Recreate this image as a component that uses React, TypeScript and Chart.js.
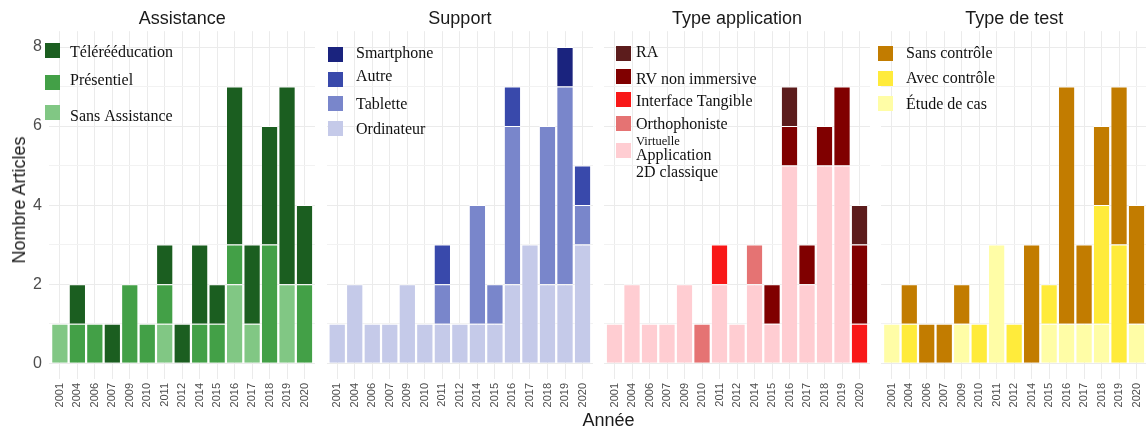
import React, { useEffect, useRef } from 'react';
import { Chart, registerables } from 'chart.js';

Chart.register(...registerables);

// ---------------- DATA ----------------
const years = ['2001', '2004', '2006', '2007', '2009', '2010', '2011', '2012', '2014', '2015', '2016', '2017', '2018', '2019', '2020'];
const yTickLabels = [0, 2, 4, 6, 8];
const yGridValues = [0, 1, 2, 3, 4, 5, 6, 7, 8];

// Assistance (bottom -> top)
const sansAssistance = [1, 0, 0, 0, 0, 0, 1, 0, 0, 0, 2, 1, 0, 2, 0];
const presentiel = [0, 1, 1, 0, 2, 1, 1, 0, 1, 1, 1, 0, 3, 0, 2];
const teleReeducation = [0, 1, 0, 1, 0, 0, 1, 1, 2, 1, 4, 2, 3, 5, 2];

// Support (bottom -> top)
const ordinateur = [1, 2, 1, 1, 2, 1, 1, 1, 1, 1, 2, 3, 2, 2, 3];
const tablette = [0, 0, 0, 0, 0, 0, 1, 0, 3, 1, 4, 0, 4, 5, 1];
const autre = [0, 0, 0, 0, 0, 0, 1, 0, 0, 0, 1, 0, 0, 0, 1];
const smartphone = [0, 0, 0, 0, 0, 0, 0, 0, 0, 0, 0, 0, 0, 1, 0];

// Type application (bottom -> top)
const application2D = [1, 2, 1, 1, 2, 0, 2, 1, 2, 1, 5, 2, 5, 5, 0];
const orthophoniste = [0, 0, 0, 0, 0, 1, 0, 0, 1, 0, 0, 0, 0, 0, 0];
const interfaceTangible = [0, 0, 0, 0, 0, 0, 1, 0, 0, 0, 0, 0, 0, 0, 1];
const rvNonImmersive = [0, 0, 0, 0, 0, 0, 0, 0, 0, 1, 1, 1, 1, 2, 2];
const realiteAugmentee = [0, 0, 0, 0, 0, 0, 0, 0, 0, 0, 1, 0, 0, 0, 1];

// Type de test (bottom -> top)
const etudeDeCas = [1, 0, 0, 0, 1, 0, 3, 0, 0, 1, 1, 1, 1, 0, 1];
const avecControle = [0, 1, 0, 0, 0, 1, 0, 1, 0, 1, 0, 0, 3, 3, 0];
const sansControle = [0, 1, 1, 1, 1, 0, 0, 0, 3, 0, 6, 2, 2, 4, 3];

const panelTitles = ['Assistance', 'Support', 'Type application', 'Type de test'];
const yAxisTitle = 'Nombre Articles';
const xAxisTitle = 'Année';

type Series = { label: string; data: number[]; color: string; legendLines: string[] };

const assistanceSeries: Series[] = [
  { label: 'Sans Assistance', data: sansAssistance, color: '#81C784', legendLines: ['Sans Assistance'] },
  { label: 'Présentiel', data: presentiel, color: '#43A047', legendLines: ['Présentiel'] },
  { label: 'Télérééducation', data: teleReeducation, color: '#1B5E20', legendLines: ['Télérééducation'] },
];
const supportSeries: Series[] = [
  { label: 'Ordinateur', data: ordinateur, color: '#C5CAE9', legendLines: ['Ordinateur'] },
  { label: 'Tablette', data: tablette, color: '#7986CB', legendLines: ['Tablette'] },
  { label: 'Autre', data: autre, color: '#3949AB', legendLines: ['Autre'] },
  { label: 'Smartphone', data: smartphone, color: '#1A237E', legendLines: ['Smartphone'] },
];
const applicationSeries: Series[] = [
  { label: 'Application 2D classique', data: application2D, color: '#FFCDD2', legendLines: ['Virtuelle', 'Application', '2D classique'] },
  { label: 'Orthophoniste', data: orthophoniste, color: '#E57373', legendLines: ['Orthophoniste'] },
  { label: 'Interface Tangible', data: interfaceTangible, color: '#F81818', legendLines: ['Interface Tangible'] },
  { label: 'RV non immersive', data: rvNonImmersive, color: '#800000', legendLines: ['RV non immersive'] },
  { label: 'RA', data: realiteAugmentee, color: '#5C1C1C', legendLines: ['RA'] },
];
const testSeries: Series[] = [
  { label: 'Étude de cas', data: etudeDeCas, color: '#FFFDA6', legendLines: ['Étude de cas'] },
  { label: 'Avec contrôle', data: avecControle, color: '#FFEB3B', legendLines: ['Avec contrôle'] },
  { label: 'Sans contrôle', data: sansControle, color: '#C27C00', legendLines: ['Sans contrôle'] },
];

// ---------------- LAYOUT ----------------
const SANS = '"Liberation Sans", Arial, Helvetica, sans-serif';
const SERIF = '"Liberation Serif", "Times New Roman", serif';
const H = 429;
const PLOT_W = 269.8;
const TEXT_DARK = '#1A1A1A';
const TICK_GRAY = '#4D4D4D';

type Row = { keyTop: number; lines: [number, number][] }; // [fontSize, baseline]
type Panel = {
  title: string;
  series: Series[];
  left: number;
  width: number;
  plotLeft: number;
  yAxis: boolean;
  legend: { keyX: number; textX: number; rows: Row[] };
};

const panels: Panel[] = [
  {
    title: panelTitles[0], series: assistanceSeries, left: 0, width: 322, plotLeft: 49.4, yAxis: true,
    legend: { keyX: 45, textX: 70, rows: [
      { keyTop: 43, lines: [[16, 57]] },
      { keyTop: 75, lines: [[16, 85]] },
      { keyTop: 105, lines: [[16, 121]] },
    ] },
  },
  {
    title: panelTitles[1], series: supportSeries, left: 323, width: 277, plotLeft: 326.7, yAxis: false,
    legend: { keyX: 328, textX: 356, rows: [
      { keyTop: 47, lines: [[16, 58]] },
      { keyTop: 72, lines: [[16, 81]] },
      { keyTop: 96, lines: [[16, 109]] },
      { keyTop: 121, lines: [[16, 134]] },
    ] },
  },
  {
    title: panelTitles[2], series: applicationSeries, left: 600, width: 277, plotLeft: 604.0, yAxis: false,
    legend: { keyX: 616, textX: 636, rows: [
      { keyTop: 46, lines: [[16, 57]] },
      { keyTop: 69, lines: [[16, 84]] },
      { keyTop: 92, lines: [[16, 106]] },
      { keyTop: 116, lines: [[16, 129]] },
      { keyTop: 143, lines: [[12.5, 145], [16, 160], [16, 177]] },
    ] },
  },
  {
    title: panelTitles[3], series: testSeries, left: 877, width: 277, plotLeft: 881.3, yAxis: false,
    legend: { keyX: 878, textX: 906, rows: [
      { keyTop: 46, lines: [[16, 58]] },
      { keyTop: 71, lines: [[16, 83]] },
      { keyTop: 96, lines: [[16, 109]] },
    ] },
  },
];

const panelLegendPlugin = {
  id: 'panelLegend',
  afterDatasetsDraw(chart: any, _args: any, opts: any) {
    const { ctx } = chart;
    const p: Panel = opts.panel;
    const items = [...p.series].reverse();
    ctx.save();
    items.forEach((s, i) => {
      const row = p.legend.rows[i];
      if (!row) return;
      ctx.fillStyle = s.color;
      ctx.fillRect(p.legend.keyX - p.left, row.keyTop, 15, 15);
      ctx.fillStyle = '#111111';
      ctx.textAlign = 'left';
      ctx.textBaseline = 'alphabetic';
      s.legendLines.forEach((txt, j) => {
        const [size, baseline] = row.lines[j];
        ctx.font = `${size}px ${SERIF}`;
        ctx.fillText(txt, p.legend.textX - p.left, baseline);
      });
    });
    ctx.restore();
  },
};

function makeConfig(p: Panel): any {
  const inner = p.plotLeft - p.left;
  const yWidth = p.yAxis ? inner : 0;
  const padLeft = p.yAxis ? 0 : inner;
  const padRight = p.width - inner - PLOT_W;
  return {
    type: 'bar',
    data: {
      datasets: p.series.map((s) => ({
        label: s.label,
        data: s.data.map((v, i) => ({ x: i, y: v === 0 ? null : v })),
        backgroundColor: s.color,
        borderColor: '#ffffff',
        borderWidth: { top: 1, left: 0.5, right: 0.5, bottom: 0 },
        borderSkipped: 'start',
        categoryPercentage: 1,
        barPercentage: 0.93,
      })),
    },
    plugins: [panelLegendPlugin],
    options: {
      animation: false,
      responsive: false,
      maintainAspectRatio: false,
      events: [],
      layout: { autoPadding: false, padding: { left: padLeft, right: padRight, top: 0, bottom: 0 } },
      plugins: {
        legend: { display: false },
        tooltip: { enabled: false },
        title: {
          display: true,
          text: p.title,
          fullSize: false,
          color: TEXT_DARK,
          font: { family: SANS, size: 18, weight: 'normal', lineHeight: 1.2 },
          padding: { top: 8.7, bottom: 0.9 },
        },
        panelLegend: { panel: p },
      },
      scales: {
        x: {
          type: 'linear',
          stacked: true,
          min: -0.6,
          max: 14.6,
          offset: false,
          afterBuildTicks: (s: any) => {
            s.ticks = years.map((_, i) => ({ value: i }));
          },
          afterFit: (s: any) => {
            s.height = H - 379;
          },
          ticks: {
            autoSkip: false,
            minRotation: 90,
            maxRotation: 90,
            padding: 4,
            color: TICK_GRAY,
            font: { family: SANS, size: 11 },
            callback: (v: number) => years[v] ?? '',
          },
          grid: { color: '#EBEBEB', lineWidth: 1, drawTicks: false, offset: false },
          border: { display: false },
        },
        y: {
          type: 'linear',
          stacked: true,
          min: -0.4,
          max: 8.4,
          afterBuildTicks: (s: any) => {
            s.ticks = yGridValues.map((v) => ({ value: v }));
          },
          afterFit: (s: any) => {
            s.width = yWidth;
          },
          ticks: {
            display: p.yAxis,
            autoSkip: false,
            padding: 7.4,
            color: TICK_GRAY,
            font: { family: SANS, size: 16 },
            callback: (v: number) => (yTickLabels.includes(v) ? String(v) : ''),
          },
          grid: {
            color: (c: any) => (c.tick && yTickLabels.includes(c.tick.value) ? '#EBEBEB' : '#F2F2F2'),
            lineWidth: 1,
            drawTicks: false,
          },
          border: { display: false },
        },
      },
    },
  };
}

function PanelChart({ p }: { p: Panel }) {
  const ref = useRef<HTMLCanvasElement>(null);
  useEffect(() => {
    if (!ref.current) return;
    const chart = new Chart(ref.current, makeConfig(p));
    return () => chart.destroy();
  }, [p]);
  return (
    <canvas
      ref={ref}
      width={p.width}
      height={H}
      style={{ position: 'absolute', left: p.left, top: 0, width: p.width, height: H }}
    />
  );
}

export default function App() {
  return (
    <div
      style={{
        position: 'absolute',
        left: 0,
        top: 0,
        width: 1146,
        height: H,
        overflow: 'hidden',
        background: '#ffffff',
      }}
    >
      {panels.map((p) => (
        <PanelChart key={p.title} p={p} />
      ))}
      <div
        style={{
          position: 'absolute',
          left: 18.8,
          top: 200,
          transform: 'translate(-50%, -50%) rotate(-90deg)',
          whiteSpace: 'nowrap',
          fontFamily: SANS,
          fontSize: 18,
          lineHeight: '18px',
          color: TEXT_DARK,
        }}
      >
        {yAxisTitle}
      </div>
      <div
        style={{
          position: 'absolute',
          left: 608.5,
          top: 410.5,
          transform: 'translateX(-50%)',
          whiteSpace: 'nowrap',
          fontFamily: SANS,
          fontSize: 18,
          lineHeight: '18px',
          color: TEXT_DARK,
        }}
      >
        {xAxisTitle}
      </div>
    </div>
  );
}
